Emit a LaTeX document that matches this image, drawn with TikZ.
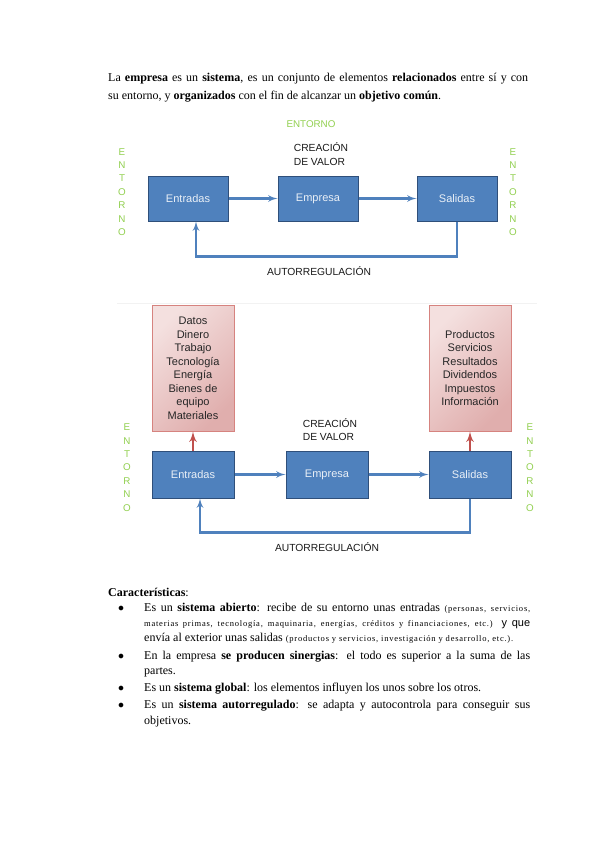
\documentclass[tikz,border=0pt]{standalone}
\usepackage{fontspec}
\setmainfont{Liberation Serif}
\newfontfamily\diagfont{Liberation Sans}
\usetikzlibrary{calc}
\usetikzlibrary{arrows}
\usetikzlibrary{positioning}
\definecolor{boxblue}{HTML}{4F81BD}
\definecolor{boxedge}{HTML}{2F4F7A}
\definecolor{entgreen}{HTML}{92D050}
\definecolor{pinktop}{HTML}{F4E0DF}
\definecolor{pinkbot}{HTML}{E0AEAD}
\definecolor{pinkedge}{HTML}{D6837F}
\definecolor{outred}{HTML}{C0504D}
\tikzstyle{flow} = [-latex', line width=2.2pt, color=boxblue, to path={-- (\tikztotarget)}]
\tikzstyle{upflow} = [-latex', line width=2.6pt, color=outred, to path={-- (\tikztotarget)}]
\tikzstyle{stage} = [draw=boxedge, fill=boxblue, line width=1pt, minimum width=80pt, minimum height=45pt, text=white!88!boxblue, font=\diagfont\fontsize{11}{13}\selectfont]
\tikzstyle{listbox} = [draw=pinkedge, top color=pinktop, bottom color=pinkbot, shading angle=45, line width=0.8pt, minimum width=82pt, minimum height=126pt, align=center, text=black!85, font=\diagfont\fontsize{11}{13.5}\selectfont]
\tikzstyle{caps} = [font=\diagfont\fontsize{10.3}{13.5}\selectfont, text=black!90]
\tikzstyle{env} = [font=\diagfont\fontsize{9.8}{13.4}\selectfont, text=entgreen, align=center]
\tikzstyle{txt} = [anchor=base west, inner sep=0pt, font=\fontsize{12}{14}\selectfont]
\newcommand{\smalltxt}{\fontsize{8.5}{10}\selectfont\addfontfeature{LetterSpace=9}}

\begin{document}
\begin{tikzpicture}[x=1pt, y=-1pt]
    \fill [white] (0,0) rectangle (600,848);
    \useasboundingbox (0,0) rectangle (600,848);

    % opening paragraph
    \node (intro1) [txt] at (108,82) {\makebox[420pt][s]{La \textbf{empresa} es un \textbf{sistema}, es un conjunto de elementos \textbf{relacionados} entre sí y con}};
    \node (intro2) [txt] at (108,100) {su entorno, y \textbf{organizados} con el fin de alcanzar un \textbf{objetivo común}.};

    % first diagram
    \node (ent1) [stage] at (188,198.5) {Entradas};
    \node (emp1) [stage, right=49pt of ent1] {Empresa};
    \node (sal1) [stage, right=58pt of emp1] {Salidas};
    \draw [flow] (ent1) to (emp1);
    \draw [flow] (emp1) to (sal1);
    \draw [flow] (sal1.south) -- ++(0,35) -| ([xshift=8pt]ent1.south);

    \node (top1) [env] at (311,124) {ENTORNO};
    \node (left1) [env] at (122,192) {E\\N\\T\\O\\R\\N\\O};
    \node (right1) [env] at (513,192) {E\\N\\T\\O\\R\\N\\O};
    \node (val1) [caps, align=left] at (321,154) {CREACIÓN\\DE VALOR};
    \node (auto1) [caps] at (319,271) {AUTORREGULACIÓN};

    \draw [black!5, line width=1pt] (117,303) -- (537,303);

    % second diagram
    \node (ent2) [stage, minimum width=82pt, minimum height=47pt] at (193,474.5) {Entradas};
    \node (emp2) [stage, minimum width=82pt, minimum height=47pt, right=51pt of ent2] {Empresa};
    \node (sal2) [stage, minimum width=82pt, minimum height=47pt, right=60pt of emp2] {Salidas};
    \node (in2) [listbox, above=19pt of ent2] {Datos\\Dinero\\Trabajo\\Tecnología\\Energía\\Bienes de\\equipo\\Materiales};
    \node (out2) [listbox, above=19pt of sal2] {Productos\\Servicios\\Resultados\\Dividendos\\Impuestos\\Información};
    \draw [upflow] (ent2.north) to (in2.south);
    \draw [upflow] (sal2.north) to (out2.south);
    \draw [flow] (ent2) to (emp2);
    \draw [flow] (emp2) to (sal2);
    \draw [flow] (sal2.south) -- ++(0,34) -| ([xshift=7pt]ent2.south);

    \node (left2) [env] at (127,467.5) {E\\N\\T\\O\\R\\N\\O};
    \node (right2) [env] at (530,467.5) {E\\N\\T\\O\\R\\N\\O};
    \node (val2) [caps, align=left] at (330,429.5) {CREACIÓN\\DE VALOR};
    \node (auto2) [caps] at (327,547) {AUTORREGULACIÓN};

    % characteristics list
    \node (feat) [txt] at (108,596) {\textbf{Características}:};
    \node (dot1) [txt] at (118,611) {$\bullet$};
    \node (f1a) [txt] at (144,611) {\makebox[386pt][s]{Es un \textbf{sistema abierto}: recibe de su entorno unas entradas {\smalltxt (personas, servicios,}}};
    \node (f1b) [txt] at (144,626) {\makebox[386pt][s]{\smalltxt materias primas, tecnología, maquinaria, energías, créditos y financiaciones, etc.) {\diagfont\fontsize{11}{13}\selectfont y que}}};
    \node (f1c) [txt] at (144,641) {envía al exterior unas salidas {\smalltxt (productos y servicios, investigación y desarrollo, etc.).}};
    \node (dot2) [txt] at (118,659) {$\bullet$};
    \node (f2a) [txt] at (144,659) {\makebox[386pt][s]{En la empresa \textbf{se producen sinergias}: el todo es superior a la suma de las}};
    \node (f2b) [txt] at (144,674) {partes.};
    \node (dot3) [txt] at (118,691) {$\bullet$};
    \node (f3a) [txt] at (144,691) {Es un \textbf{sistema global}: los elementos influyen los unos sobre los otros.};
    \node (dot4) [txt] at (118,708) {$\bullet$};
    \node (f4a) [txt] at (144,708) {\makebox[386pt][s]{Es un \textbf{sistema autorregulado}: se adapta y autocontrola para conseguir sus}};
    \node (f4b) [txt] at (144,724) {objetivos.};
\end{tikzpicture}
\end{document}
